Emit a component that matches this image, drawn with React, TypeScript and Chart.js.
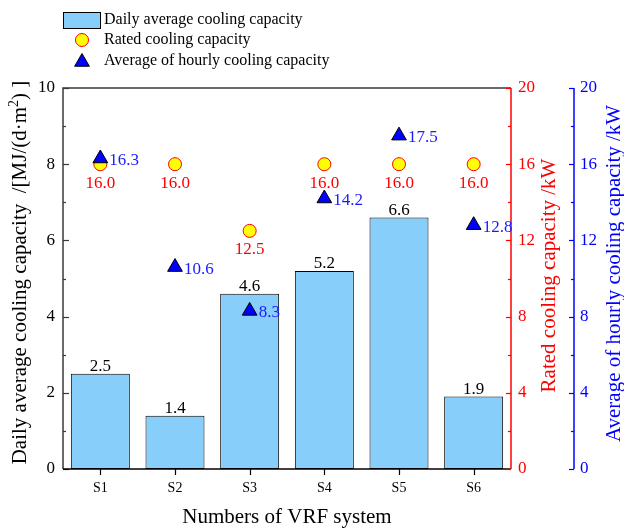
import React, { useEffect, useRef } from 'react';
import { Chart, registerables } from 'chart.js';

Chart.register(...registerables);

const categories = ['S1', 'S2', 'S3', 'S4', 'S5', 'S6'];
const dailyAverage = [2.5, 1.4, 4.6, 5.2, 6.6, 1.9];
const ratedCapacity = [16.0, 16.0, 12.5, 16.0, 16.0, 16.0];
const hourlyAverage = [16.3, 10.6, 8.3, 14.2, 17.5, 12.8];
const legendLabels = [
  'Daily average cooling capacity',
  'Rated cooling capacity',
  'Average of hourly cooling capacity',
];
const titleX = 'Numbers of VRF system';
const titleLeftMain = 'Daily average cooling capacity  /[MJ/(d\u00b7m';
const titleLeftSup = '2';
const titleLeftTail = ') ]';
const titleRed = 'Rated cooling capacity /kW';
const titleBlue = 'Average of hourly cooling capacity /kW';

const FONT = "'Liberation Serif', 'Times New Roman', serif";
const BAR_FILL = '#87CEFA';
const RED = '#FF0000';
const BLUE = '#0000FF';
const BLUE_TEXT = '#1a1aff';

function triPath(ctx: CanvasRenderingContext2D, x: number, y: number, r: number) {
  ctx.beginPath();
  for (let k = 0; k < 3; k++) {
    const a = (k * 2 * Math.PI) / 3;
    const px = x + Math.sin(a) * r;
    const py = y - Math.cos(a) * r;
    if (k === 0) ctx.moveTo(px, py);
    else ctx.lineTo(px, py);
  }
  ctx.closePath();
}

const overlay = {
  id: 'overlay',
  afterDatasetsDraw(chart: any) {
    const ctx: CanvasRenderingContext2D = chart.ctx;
    const { left, right, top, bottom } = chart.chartArea;
    const sx = chart.scales.x;
    const sy = chart.scales.y;
    const sy1 = chart.scales.y1;
    const sy2 = chart.scales.y2;
    ctx.save();

    // frame left + top
    ctx.lineWidth = 1.5;
    ctx.strokeStyle = '#3a3a3a';
    ctx.beginPath();
    ctx.moveTo(left, bottom);
    ctx.lineTo(left, top);
    ctx.lineTo(right, top);
    ctx.stroke();
    // left ticks (inward)
    ctx.lineWidth = 1.2;
    for (let v = 0; v <= 10; v++) {
      const py = Math.round(sy.getPixelForValue(v)) + 0.5;
      const len = v % 2 === 0 ? 6 : 3;
      ctx.beginPath();
      ctx.moveTo(left, py);
      ctx.lineTo(left + len, py);
      ctx.stroke();
    }
    // bottom axis
    ctx.strokeStyle = '#000';
    ctx.lineWidth = 1.5;
    ctx.beginPath();
    ctx.moveTo(left, bottom);
    ctx.lineTo(right, bottom);
    ctx.stroke();
    ctx.lineWidth = 1.2;
    for (let i = 0; i < categories.length; i++) {
      const px = Math.round(sx.getPixelForValue(i)) + 0.5;
      ctx.beginPath();
      ctx.moveTo(px, bottom);
      ctx.lineTo(px, bottom + 6);
      ctx.stroke();
    }
    // red axis
    ctx.strokeStyle = RED;
    ctx.lineWidth = 1.5;
    ctx.beginPath();
    ctx.moveTo(right, top);
    ctx.lineTo(right, bottom);
    ctx.stroke();
    ctx.lineWidth = 1.2;
    for (let v = 0; v <= 20; v += 2) {
      const py = Math.round(sy1.getPixelForValue(v)) + 0.5;
      const len = v % 4 === 0 ? 5 : 3;
      ctx.beginPath();
      ctx.moveTo(right - len, py);
      ctx.lineTo(right, py);
      ctx.stroke();
    }
    // blue axis
    const bx = sy2.left + 1;
    ctx.strokeStyle = BLUE;
    ctx.lineWidth = 1.5;
    ctx.beginPath();
    ctx.moveTo(bx, top);
    ctx.lineTo(bx, bottom);
    ctx.stroke();
    ctx.lineWidth = 1.2;
    for (let v = 0; v <= 20; v += 2) {
      const py = Math.round(sy2.getPixelForValue(v)) + 0.5;
      const len = v % 4 === 0 ? 5 : 3;
      ctx.beginPath();
      ctx.moveTo(bx - len, py);
      ctx.lineTo(bx, py);
      ctx.stroke();
    }

    // data labels
    ctx.font = `17px ${FONT}`;
    const barMeta = chart.getDatasetMeta(0);
    ctx.fillStyle = '#000';
    ctx.textAlign = 'center';
    ctx.textBaseline = 'alphabetic';
    barMeta.data.forEach((el: any, i: number) => {
      ctx.fillText(dailyAverage[i].toFixed(1), el.x, el.y - 3);
    });
    const ratedMeta = chart.getDatasetMeta(1);
    ctx.fillStyle = RED;
    ctx.textBaseline = 'middle';
    ratedMeta.data.forEach((el: any, i: number) => {
      ctx.fillText(ratedCapacity[i].toFixed(1), el.x, el.y + 19);
    });
    const hourlyMeta = chart.getDatasetMeta(2);
    ctx.fillStyle = BLUE_TEXT;
    ctx.textAlign = 'left';
    hourlyMeta.data.forEach((el: any, i: number) => {
      ctx.fillText(hourlyAverage[i].toFixed(1), el.x + 9, el.y + 2);
    });
    ctx.restore();
  },
  afterDraw(chart: any) {
    const ctx: CanvasRenderingContext2D = chart.ctx;
    const { left, right, top, bottom } = chart.chartArea;
    ctx.save();
    const midY = (top + bottom) / 2 - 5;

    // x title
    ctx.font = `21px ${FONT}`;
    ctx.fillStyle = '#000';
    ctx.textAlign = 'center';
    ctx.textBaseline = 'middle';
    ctx.fillText(titleX, (left + right) / 2, 517);

    // left title (rotated, with superscript)
    ctx.save();
    ctx.translate(19, midY - 1);
    ctx.rotate(-Math.PI / 2);
    ctx.font = `21px ${FONT}`;
    const wMain = ctx.measureText(titleLeftMain).width;
    const wTail = ctx.measureText(titleLeftTail).width;
    ctx.font = `14px ${FONT}`;
    const wSup = ctx.measureText(titleLeftSup).width;
    const total = wMain + wSup + wTail;
    let cx = -total / 2;
    ctx.textAlign = 'left';
    ctx.textBaseline = 'alphabetic';
    ctx.font = `21px ${FONT}`;
    ctx.fillText(titleLeftMain, cx, 7);
    cx += wMain;
    ctx.font = `14px ${FONT}`;
    ctx.fillText(titleLeftSup, cx, -1);
    cx += wSup;
    ctx.font = `21px ${FONT}`;
    ctx.fillText(titleLeftTail, cx, 7);
    ctx.restore();

    // red title
    ctx.save();
    ctx.translate(549, midY + 2);
    ctx.rotate(-Math.PI / 2);
    ctx.font = `21px ${FONT}`;
    ctx.fillStyle = RED;
    ctx.textAlign = 'center';
    ctx.textBaseline = 'middle';
    ctx.fillText(titleRed, 0, 0);
    ctx.restore();

    // blue title
    ctx.save();
    ctx.translate(614, midY);
    ctx.rotate(-Math.PI / 2);
    ctx.font = `21px ${FONT}`;
    ctx.fillStyle = BLUE;
    ctx.textAlign = 'center';
    ctx.textBaseline = 'middle';
    ctx.fillText(titleBlue, 0, 0);
    ctx.restore();

    // legend
    ctx.font = `16px ${FONT}`;
    ctx.textAlign = 'left';
    ctx.textBaseline = 'middle';
    const rows = [20, 40, 61];
    ctx.fillStyle = BAR_FILL;
    ctx.fillRect(63.5, 12.5, 37, 16);
    ctx.strokeStyle = '#000';
    ctx.lineWidth = 1;
    ctx.strokeRect(63.5, 12.5, 37, 16);
    ctx.beginPath();
    ctx.arc(82, rows[1], 6.5, 0, Math.PI * 2);
    ctx.fillStyle = '#FFFF00';
    ctx.fill();
    ctx.strokeStyle = RED;
    ctx.stroke();
    triPath(ctx, 82, rows[2] + 1, 8.5);
    ctx.fillStyle = BLUE;
    ctx.fill();
    ctx.strokeStyle = '#000';
    ctx.stroke();
    ctx.fillStyle = '#000';
    legendLabels.forEach((t, i) => ctx.fillText(t, 104, rows[i]));
    ctx.restore();
  },
};

export default function App() {
  const ref = useRef<HTMLCanvasElement | null>(null);
  useEffect(() => {
    if (!ref.current) return;
    const tickFont = { family: FONT, size: 17 };
    const chart = new Chart(ref.current, {
      type: 'bar',
      data: {
        labels: categories,
        datasets: [
          {
            type: 'bar',
            label: legendLabels[0],
            data: dailyAverage,
            yAxisID: 'y',
            backgroundColor: BAR_FILL,
            borderColor: '#000',
            borderWidth: 1,
            borderSkipped: false,
            barPercentage: 0.79,
            categoryPercentage: 1.0,
            order: 3,
          } as any,
          {
            type: 'line',
            label: legendLabels[1],
            data: ratedCapacity,
            yAxisID: 'y1',
            showLine: false,
            pointStyle: 'circle',
            pointRadius: 6.5,
            pointBackgroundColor: '#FFFF00',
            pointBorderColor: RED,
            pointBorderWidth: 1,
            order: 2,
          } as any,
          {
            type: 'line',
            label: legendLabels[2],
            data: hourlyAverage,
            yAxisID: 'y2',
            showLine: false,
            pointStyle: 'triangle',
            pointRadius: 8.5,
            pointBackgroundColor: BLUE,
            pointBorderColor: '#000',
            pointBorderWidth: 1,
            order: 1,
          } as any,
        ],
      },
      options: {
        responsive: false,
        animation: false,
        layout: { padding: { top: 88, left: 0, right: 0, bottom: 0 } },
        plugins: {
          legend: { display: false },
          tooltip: { enabled: false },
          title: { display: false },
        },
        scales: {
          x: {
            type: 'category',
            offset: true,
            grid: { display: false, drawTicks: false },
            border: { display: false },
            ticks: { font: { family: FONT, size: 14 }, color: '#000', padding: 11 },
            afterFit: (s: any) => { s.height = 62; },
          },
          y: {
            type: 'linear',
            position: 'left',
            min: 0,
            max: 10,
            grid: { display: false, drawTicks: false },
            border: { display: false },
            ticks: { stepSize: 2, font: tickFont, color: '#000', padding: 8 },
            afterFit: (s: any) => { s.width = 63; },
          },
          y1: {
            type: 'linear',
            position: 'right',
            min: 0,
            max: 20,
            weight: 0,
            grid: { display: false, drawTicks: false },
            border: { display: false },
            ticks: { stepSize: 4, font: tickFont, color: RED, padding: 7 },
            afterFit: (s: any) => { s.width = 62; },
          },
          y2: {
            type: 'linear',
            position: 'right',
            min: 0,
            max: 20,
            weight: 1,
            grid: { display: false, drawTicks: false },
            border: { display: false },
            ticks: { stepSize: 4, font: tickFont, color: BLUE, padding: 7 },
            afterFit: (s: any) => { s.width = 51; },
          },
        },
      } as any,
      plugins: [overlay],
    });
    return () => chart.destroy();
  }, []);
  return (
    <div style={{ position: 'fixed', left: 0, top: 0, width: 624, height: 531, background: '#fff' }}>
      <canvas ref={ref} width={624} height={531} style={{ width: 624, height: 531 }} />
    </div>
  );
}
